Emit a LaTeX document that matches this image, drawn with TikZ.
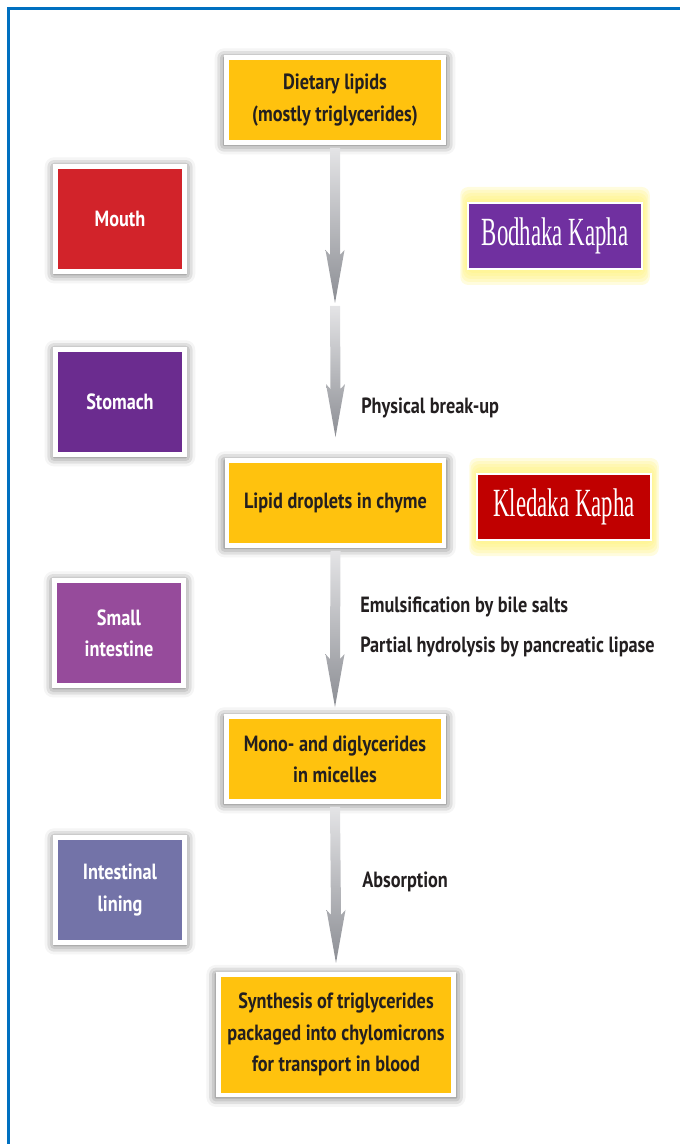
\documentclass[tikz,border=0pt]{standalone}
\usepackage{fontspec}
\newfontfamily\labelfont{PT Sans}[FakeStretch=0.83]
\newfontfamily\kaphafont{Liberation Serif}[FakeStretch=0.57]
\usetikzlibrary{calc}
\usetikzlibrary{positioning}
\usetikzlibrary{backgrounds}
\usetikzlibrary{shadows.blur}

\definecolor{boxyellow}{HTML}{FFC20E}
\definecolor{textdark}{HTML}{231F20}
\definecolor{mouthred}{HTML}{D2232A}
\definecolor{stomachpurple}{HTML}{6B2C8F}
\definecolor{smallpurple}{HTML}{964B9B}
\definecolor{liningblue}{HTML}{7373A8}
\definecolor{bodhakapurple}{HTML}{7030A0}
\definecolor{kledakared}{HTML}{C00000}
\definecolor{glowyellow}{HTML}{FFF27A}
\definecolor{frameblue}{HTML}{0070C0}
\definecolor{arrowtop}{HTML}{E4E4E6}
\definecolor{arrowbot}{HTML}{8C8E94}

% 渐变箭头：起点、终点、终点留空
\newcommand{\flowarrow}[3]{%
  \shade[top color=arrowtop, bottom color=arrowbot]
    ($(#1)+(-5,3)$) -- ($(#2)+(-5,-48-#3)$) -- ($(#2)+(-9.5,-53-#3)$)
    -- ($(#2)+(0,-#3)$) -- ($(#2)+(9.5,-53-#3)$) -- ($(#2)+(5,-48-#3)$)
    -- ($(#1)+(5,3)$) -- cycle;}

\tikzset{
  boxshadow/.style={blur shadow={shadow xshift=0pt, shadow yshift=-1pt,
      shadow scale=1.02, shadow blur radius=7pt, shadow opacity=65}},
  stagebox/.style={boxshadow, fill=boxyellow, draw=white, line width=3.4pt,
    text=textdark, font=\labelfont\bfseries\fontsize{16.5}{23.5}\selectfont,
    align=center, inner sep=0pt, minimum width=163pt, minimum height=64pt},
  organbox/.style={boxshadow, draw=white, line width=3.75pt, text=white,
    font=\labelfont\bfseries\fontsize{16.5}{23.5}\selectfont,
    align=center, inner sep=0pt, minimum width=96.75pt, minimum height=78.75pt},
  kaphabox/.style={draw=white, line width=1.5pt, text=white,
    font=\kaphafont\fontsize{30}{32}\selectfont, inner sep=0pt,
    minimum width=130.5pt, minimum height=49.5pt},
  steplabel/.style={anchor=west, text=textdark, inner sep=0pt,
    font=\labelfont\bfseries\fontsize{16.5}{23.5}\selectfont},
}

\begin{document}
\begin{tikzpicture}[x=0.75pt, y=-0.75pt]
  \useasboundingbox (0,0) rectangle (680,1144);
  % 蓝色边框
  \draw[frameblue, line width=2.25pt] (8,1144) -- (8,9) -- (680,9);
  % 主流程方框
  \node[stagebox] (lipids) at (335,100) {Dietary lipids\\(mostly triglycerides)};
  \node[stagebox] (chyme) at (335.5,503) {Lipid droplets in chyme};
  \node[stagebox] (micelles) at (335,759) {Mono- and diglycerides\\in micelles};
  \node[stagebox, minimum width=176.6pt, minimum height=90.4pt] (chylo) at (336,1034.5)
    {Synthesis of triglycerides\\packaged into chylomicrons\\for transport in blood};
  % 器官方框
  \node[organbox, fill=mouthred] (mouth) at (120,219) {Mouth};
  \node[organbox, fill=stomachpurple] (stomach) at (120,402) {Stomach};
  \node[organbox, fill=smallpurple] (smallint) at (119,633) {Small\\intestine};
  \node[organbox, fill=liningblue] (lining) at (120,890) {Intestinal\\lining};
  % Kapha 方框
  \node[kaphabox, fill=bodhakapurple] (bodhaka) at (555,236) {Bodhaka Kapha};
  \node[kaphabox, fill=kledakared] (kledaka) at (564,507) {Kledaka Kapha};
  % 光晕
  \begin{scope}[on background layer]
    \foreach \g in {3,6,...,15}
    {
      \fill[glowyellow, opacity=0.25, rounded corners=6pt]
        ($(bodhaka.north west)+(-0.45*\g,-\g)$) rectangle ($(bodhaka.south east)+(0.45*\g,\g)$);
      \fill[glowyellow, opacity=0.25, rounded corners=6pt]
        ($(kledaka.north west)+(-0.45*\g,-\g)$) rectangle ($(kledaka.south east)+(0.45*\g,\g)$);
    }
  \end{scope}
  % 箭头
  \coordinate (split) at (335,303);
  \flowarrow{lipids.south}{split}{0}
  \flowarrow{split}{chyme.north}{21}
  \flowarrow{chyme.south}{micelles.north}{7}
  \flowarrow{micelles.south}{chylo.north}{9}
  % 步骤说明
  \node[steplabel] (breakup) at (361,408) {Physical break-up};
  \node[steplabel] (emulsify) at (360,607) {Emulsification by bile salts};
  \node[steplabel] (hydrolysis) at (360,647) {Partial hydrolysis by pancreatic lipase};
  \node[steplabel] (absorb) at (362,882) {Absorption};
\end{tikzpicture}
\end{document}
